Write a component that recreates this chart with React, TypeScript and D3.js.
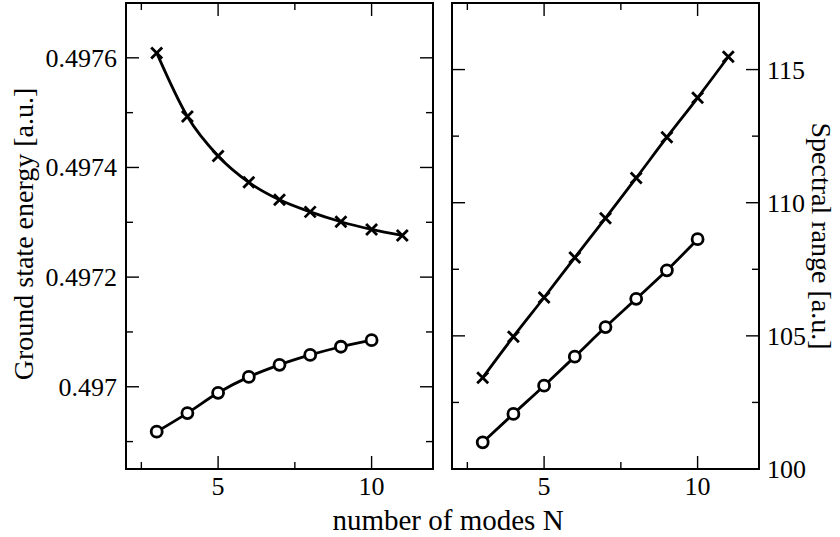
import React, { useEffect, useRef } from 'react';
import * as d3 from 'd3';

// number of modes N
const modesLong = [3, 4, 5, 6, 7, 8, 9, 10, 11];
const modesShort = [3, 4, 5, 6, 7, 8, 9, 10];

// ground state energy [a.u.]
const energyCross = [0.497609, 0.497493, 0.497421, 0.497373, 0.497341, 0.497319, 0.497301, 0.497287, 0.497276];
const energyCircle = [0.496918, 0.496952, 0.496989, 0.497018, 0.49704, 0.497058, 0.497073, 0.497085];

// spectral range [a.u.]
const rangeCross = [103.43, 104.97, 106.44, 107.94, 109.42, 110.93, 112.46, 113.94, 115.48];
const rangeCircle = [101.0, 102.07, 103.13, 104.22, 105.33, 106.39, 107.46, 108.63];

const xTicks = [5, 10];
const xMinor = [2.5, 7.5];
const energyTicks = [0.497, 0.4972, 0.4974, 0.4976];
const energyMinor = [0.4969, 0.4971, 0.4973, 0.4975];
const rangeTicks = [100, 105, 110, 115];
const rangeMinor = [102.5, 107.5, 112.5];

const App: React.FC = () => {
  const svgRef = useRef<SVGSVGElement>(null);
  const width = 840;
  const height = 537;

  useEffect(() => {
    if (!svgRef.current) return;
    const svg = d3.select(svgRef.current);
    svg.selectAll('*').remove();

    const top = 3;
    const bottom = 469;
    const panels = [
      { left: 126, right: 433 },
      { left: 452, right: 759 }
    ];

    const drawPanel = (
      p: { left: number; right: number },
      yDomain: [number, number],
      major: number[],
      minor: number[],
      series: { xs: number[]; ys: number[]; marker: 'x' | 'o' }[],
      labelSide: 'left' | 'right',
      fmt: (d: number) => string
    ) => {
      const x = d3.scaleLinear().domain([2, 12]).range([p.left, p.right]);
      const y = d3.scaleLinear().domain(yDomain).range([bottom, top]);
      const g = svg.append('g');

      // frame
      g.append('rect')
        .attr('x', p.left)
        .attr('y', top)
        .attr('width', p.right - p.left)
        .attr('height', bottom - top)
        .attr('fill', 'none')
        .attr('stroke', '#000')
        .attr('stroke-width', 2);

      // x ticks, inward on both edges
      const xt = [...xTicks.map(v => ({ v, len: 13 })), ...xMinor.map(v => ({ v, len: 7 }))];
      xt.forEach(t => {
        g.append('line').attr('x1', x(t.v)).attr('x2', x(t.v))
          .attr('y1', bottom).attr('y2', bottom - t.len)
          .attr('stroke', '#000').attr('stroke-width', 1.4);
        g.append('line').attr('x1', x(t.v)).attr('x2', x(t.v))
          .attr('y1', top).attr('y2', top + t.len)
          .attr('stroke', '#000').attr('stroke-width', 1.4);
      });
      g.selectAll('text.xt')
        .data(xTicks)
        .enter()
        .append('text')
        .attr('x', d => x(d))
        .attr('y', bottom + 26)
        .attr('text-anchor', 'middle')
        .attr('font-size', 26)
        .text(d => d);

      // y ticks, inward on both edges
      const yt = [...major.map(v => ({ v, len: 13 })), ...minor.map(v => ({ v, len: 7 }))];
      yt.forEach(t => {
        g.append('line').attr('x1', p.left).attr('x2', p.left + t.len)
          .attr('y1', y(t.v)).attr('y2', y(t.v))
          .attr('stroke', '#000').attr('stroke-width', 1.4);
        g.append('line').attr('x1', p.right).attr('x2', p.right - t.len)
          .attr('y1', y(t.v)).attr('y2', y(t.v))
          .attr('stroke', '#000').attr('stroke-width', 1.4);
      });
      g.selectAll('text.yt')
        .data(major)
        .enter()
        .append('text')
        .attr('x', labelSide === 'left' ? p.left - 9 : p.right + 8)
        .attr('y', d => y(d) + 9)
        .attr('text-anchor', labelSide === 'left' ? 'end' : 'start')
        .attr('font-size', 26)
        .text(d => fmt(d));

      // data lines and markers
      const line = d3.line<[number, number]>()
        .x(d => x(d[0]))
        .y(d => y(d[1]))
        .curve(d3.curveMonotoneX);

      series.forEach(s => {
        const pts: [number, number][] = s.xs.map((v, i) => [v, s.ys[i]]);
        g.append('path')
          .attr('d', line(pts) || '')
          .attr('fill', 'none')
          .attr('stroke', '#000')
          .attr('stroke-width', 2.8);
        if (s.marker === 'o') {
          g.selectAll(null)
            .data(pts)
            .enter()
            .append('circle')
            .attr('cx', d => x(d[0]))
            .attr('cy', d => y(d[1]))
            .attr('r', 5.5)
            .attr('fill', '#fff')
            .attr('stroke', '#000')
            .attr('stroke-width', 2.8);
        } else {
          const r = 5.5;
          g.selectAll(null)
            .data(pts)
            .enter()
            .append('path')
            .attr('d', d => {
              const cx = x(d[0]);
              const cy = y(d[1]);
              return `M${cx - r},${cy - r}L${cx + r},${cy + r}M${cx - r},${cy + r}L${cx + r},${cy - r}`;
            })
            .attr('stroke', '#000')
            .attr('stroke-width', 2.8);
        }
      });
    };

    drawPanel(
      panels[0],
      [0.49685, 0.4977],
      energyTicks,
      energyMinor,
      [
        { xs: modesLong, ys: energyCross, marker: 'x' },
        { xs: modesShort, ys: energyCircle, marker: 'o' }
      ],
      'left',
      d => d3.format('.4~f')(d)
    );

    drawPanel(
      panels[1],
      [100, 117.5],
      rangeTicks,
      rangeMinor,
      [
        { xs: modesLong, ys: rangeCross, marker: 'x' },
        { xs: modesShort, ys: rangeCircle, marker: 'o' }
      ],
      'right',
      d => String(d)
    );

    // axis titles
    svg.append('text')
      .attr('x', 448)
      .attr('y', 530)
      .attr('text-anchor', 'middle')
      .attr('font-size', 29)
      .text('number of modes N');

    svg.append('text')
      .attr('transform', 'translate(33,234) rotate(-90)')
      .attr('text-anchor', 'middle')
      .attr('font-size', 28)
      .text('Ground state energy [a.u.]');

    svg.append('text')
      .attr('transform', 'translate(812,236) rotate(90)')
      .attr('text-anchor', 'middle')
      .attr('font-size', 28)
      .text('Spectral range [a.u.]');
  }, []);

  return (
    <svg
      ref={svgRef}
      width={width}
      height={height}
      style={{
        position: 'absolute',
        left: 0,
        top: 0,
        background: '#fff',
        fontFamily: "'Liberation Serif', 'DejaVu Serif', 'Times New Roman', serif"
      }}
    />
  );
};

export default App;
